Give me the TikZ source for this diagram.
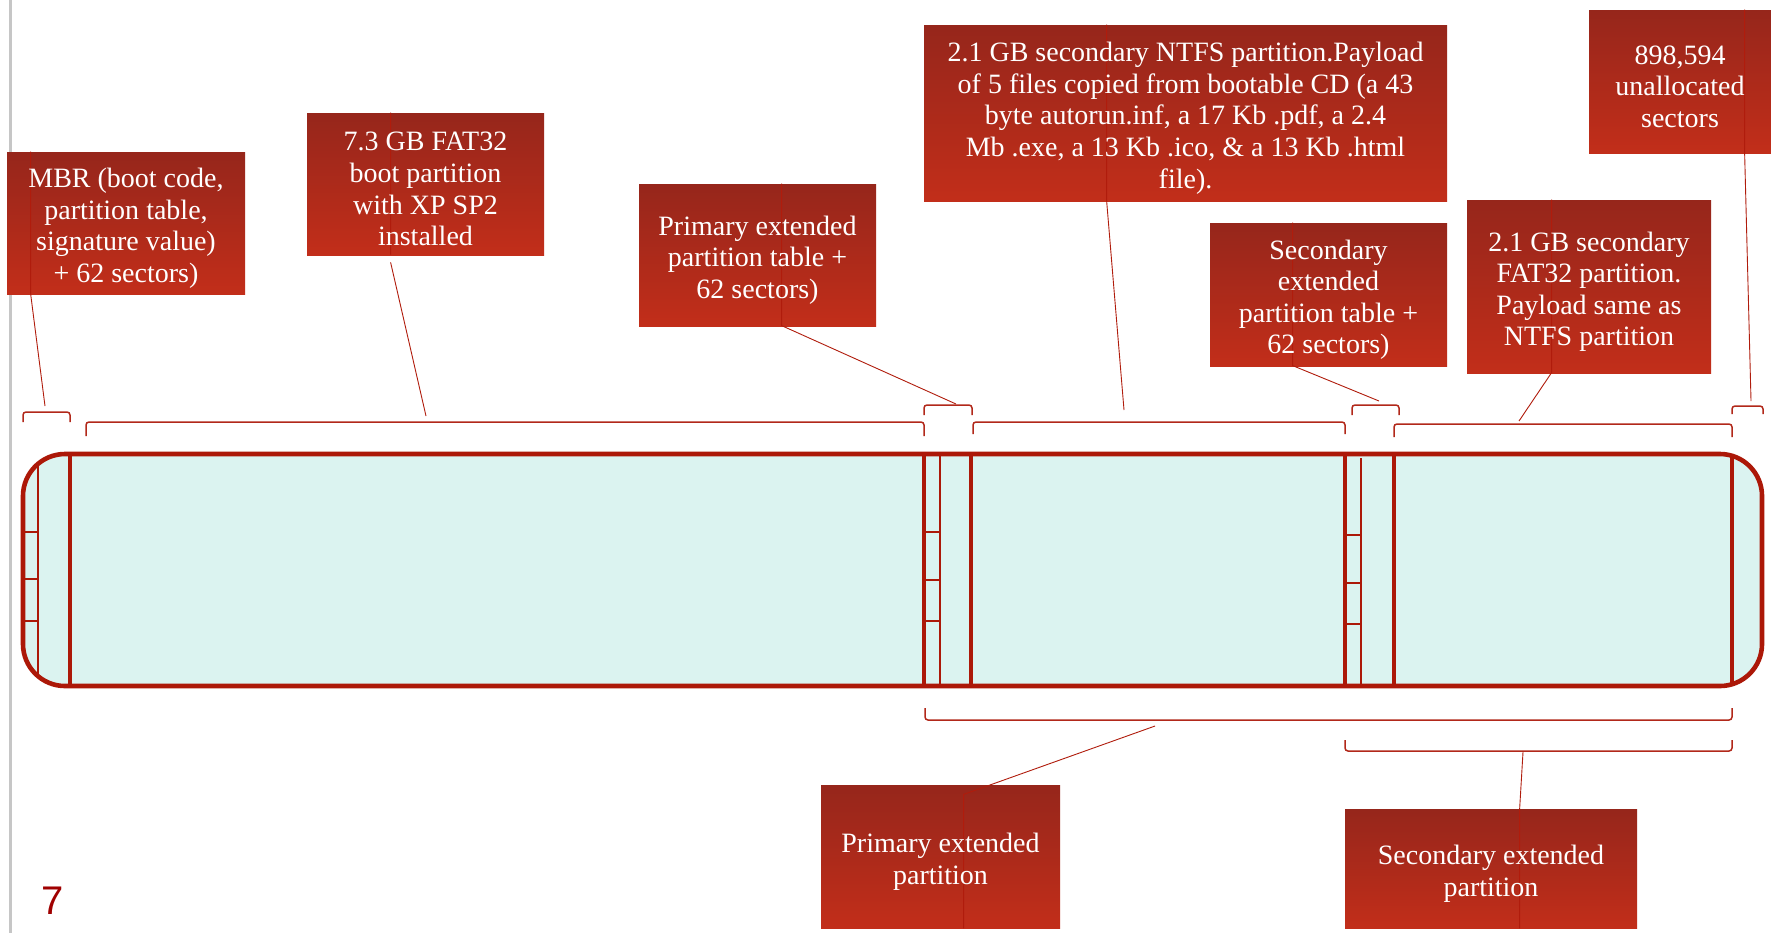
\documentclass[tikz,border=0pt]{standalone}
\usepackage{fontspec}
\setmainfont{Liberation Serif}
\newfontfamily\numfont{Liberation Sans}
\definecolor{boxtop}{RGB}{150,38,27}
\definecolor{boxbot}{RGB}{194,46,26}
\definecolor{barline}{RGB}{172,24,8}
\definecolor{barfill}{RGB}{219,243,240}
\definecolor{brk}{RGB}{178,40,26}
\definecolor{leadc}{RGB}{176,28,12}
\definecolor{numred}{RGB}{160,0,0}
\tikzset{
  callbox/.style={shading=axis, top color=boxtop, bottom color=boxbot, inner sep=0pt},
  boxtext/.style={text=white, align=center, inner sep=0pt, yshift=-2.6pt,
    font=\fontsize{14}{15.8}\selectfont},
  leader/.style={draw=leadc, line width=0.45pt},
  bracketline/.style={draw=brk, line width=0.75pt, rounded corners=1.5pt},
  thickdiv/.style={draw=barline, line width=1.8pt},
  thindiv/.style={draw=barline, line width=1.1pt},
  barshape/.style={draw=barline, line width=2.3pt},
}
\begin{document}
\begin{tikzpicture}[x=0.5pt,y=-0.5pt]
\useasboundingbox (0,0) rectangle (1771,933);
\fill[white] (0,0) rectangle (1771,933);
% gray page edge
\draw[gray!45, line width=1.5pt] (10,0) -- (10,933);
% bar
\fill[barfill, rounded corners=21pt] (23,454) rectangle (1762,686);
\begin{scope}
\clip[rounded corners=21pt] (23,454) rectangle (1762,686);
\draw[thindiv] (38,440) -- (38,700);
\foreach \y in {532,579,621} \draw[thindiv] (20,\y) -- (38,\y);
\draw[thickdiv] (70,440) -- (70,700);
\draw[thickdiv] (924,440) -- (924,700);
\draw[thindiv] (940,440) -- (940,700);
\foreach \y in {532,580,621} \draw[thindiv] (924,\y) -- (940,\y);
\draw[thickdiv] (971,440) -- (971,700);
\draw[thickdiv] (1345,440) -- (1345,700);
\draw[thindiv] (1361,458) -- (1361,700);
\foreach \y in {535,583,624} \draw[thindiv] (1345,\y) -- (1361,\y);
\draw[thickdiv] (1394,440) -- (1394,700);
\draw[thickdiv] (1732,440) -- (1732,700);
\end{scope}
\draw[barshape, rounded corners=21pt] (23,454) rectangle (1762,686);
% top brackets
\draw[bracketline] (23,422) -- (23,412) -- (70,412) -- (70,422);
\draw[bracketline] (86,436) -- (86,422) -- (924,422) -- (924,436);
\draw[bracketline] (924,415) -- (924,405) -- (972,405) -- (972,415);
\draw[bracketline] (973,434) -- (973,422) -- (1345,422) -- (1345,434);
\draw[bracketline] (1352,415) -- (1352,405) -- (1399,405) -- (1399,415);
\draw[bracketline] (1394,437) -- (1394,424) -- (1732,424) -- (1732,437);
\draw[bracketline] (1732,414) -- (1732,406) -- (1763,406) -- (1763,414);
% bottom brackets
\draw[bracketline] (925,708) -- (925,720) -- (1732,720) -- (1732,708);
\draw[bracketline] (1345,740) -- (1345,751) -- (1732,751) -- (1732,740);
% boxes
\node[callbox, minimum width=238*0.5pt, minimum height=142*0.5pt] (mbr) at (126,223) {};
\node[callbox, minimum width=237*0.5pt, minimum height=142*0.5pt] (fat) at (425.5,184) {};
\node[callbox, minimum width=237*0.5pt, minimum height=142*0.5pt] (pet) at (757.5,255) {};
\node[callbox, minimum width=523*0.5pt, minimum height=176*0.5pt] (ntfs) at (1185.5,113) {};
\node[callbox, minimum width=237*0.5pt, minimum height=143*0.5pt] (set) at (1328.5,294.5) {};
\node[callbox, minimum width=244*0.5pt, minimum height=173*0.5pt] (fat2) at (1589,286.5) {};
\node[callbox, minimum width=182*0.5pt, minimum height=143*0.5pt] (una) at (1680,81.5) {};
\node[callbox, minimum width=239*0.5pt, minimum height=143*0.5pt] (pep) at (940.5,856.5) {};
\node[callbox, minimum width=292*0.5pt, minimum height=119*0.5pt] (sep) at (1491,868.5) {};
% leader tips
\coordinate (mbrTip) at (45,406);
\coordinate (fatTip) at (426,416);
\coordinate (petTip) at (956,404);
\coordinate (ntfsTip) at (1124,410);
\coordinate (setTip) at (1379,401);
\coordinate (fat2Tip) at (1519,421);
\coordinate (unaTip) at (1751,401);
\coordinate (pepTip) at (1155,726);
\coordinate (sepTip) at (1523,752);
% leaders (callout style)
\draw[leader] (mbr.north west) ++(24,0) -- ++(0,142) -- (mbrTip);
\draw[leader] (fat.north west) ++(84,0) -- ++(0,142) (fat.south west) ++(84,7) -- (fatTip);
\draw[leader] (pet.north west) ++(143,0) -- ++(0,142) -- (petTip);
\draw[leader] (ntfs.north west) ++(183,0) -- ++(0,176) -- (ntfsTip);
\draw[leader] (set.north west) ++(83,0) -- ++(0,143) -- (setTip);
\draw[leader] (fat2.north west) ++(85,0) -- ++(0,173) -- (fat2Tip);
\draw[leader] (una.north west) ++(156,0) -- ++(0,143) -- (unaTip);
\draw[leader] (pep.south west) ++(143,0) -- ++(0,-134) -- (pepTip);
\draw[leader] (sep.south west) ++(175,0) -- ++(0,-119) -- (sepTip);
% box texts
\node[boxtext] (mbrT) at (mbr.center) {MBR (boot code,\\ partition table,\\ signature value)\\ + 62 sectors)};
\node[boxtext] (fatT) at (fat.center) {7.3 GB FAT32\\ boot partition\\ with XP SP2\\ installed};
\node[boxtext] (petT) at (pet.center) {Primary extended\\ partition table +\\ 62 sectors)};
\node[boxtext] (ntfsT) at (ntfs.center) {2.1 GB secondary NTFS partition.Payload\\ of 5 files copied from bootable CD (a 43\\ byte autorun.inf, a 17 Kb .pdf, a 2.4\\ Mb .exe, a 13 Kb .ico, \& a 13 Kb .html\\ file).};
\node[boxtext] (setT) at (set.center) {Secondary\\ extended\\ partition table +\\ 62 sectors)};
\node[boxtext] (fat2T) at (fat2.center) {2.1 GB secondary\\ FAT32 partition.\\ Payload same as\\ NTFS partition};
\node[boxtext] (unaT) at (una.center) {898,594\\ unallocated\\ sectors};
\node[boxtext] (pepT) at (pep.center) {Primary extended\\ partition};
\node[boxtext] (sepT) at (sep.center) {Secondary extended\\ partition};
% page number
\node[text=numred, font=\numfont\fontsize{20}{24}\selectfont, inner sep=0pt] (pnum) at (53,901) {7};
\end{tikzpicture}
\end{document}
